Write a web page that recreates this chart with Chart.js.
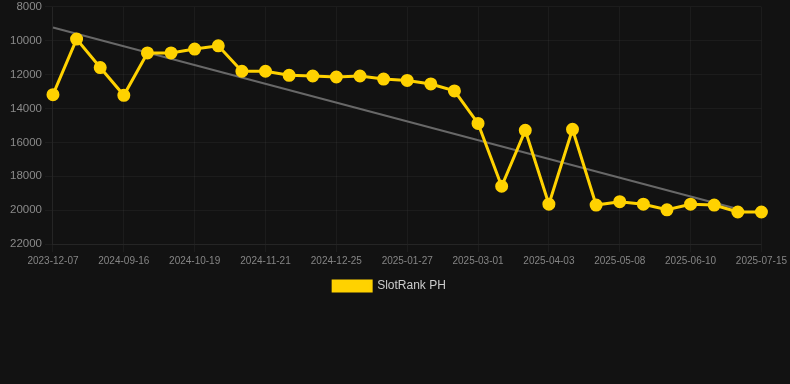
<!DOCTYPE html>
<html>
<head>
<meta charset="utf-8">
<script src="https://cdn.jsdelivr.net/npm/chart.js@4"></script>
<style>
  html, body { margin: 0; padding: 0; background: #121212; overflow: hidden; }
  #wrap { width: 790px; height: 305px; position: relative; margin-top: -3px; }
</style>
</head>
<body>
<div id="wrap"><canvas id="chart-rank"></canvas></div>
<script>
const dates = [
  '2023-12-07', '2024-08-21', '2024-09-05', '2024-09-16', '2024-09-27', '2024-10-08',
  '2024-10-19', '2024-10-30', '2024-11-10', '2024-11-21', '2024-12-02', '2024-12-14',
  '2024-12-25', '2025-01-05', '2025-01-16', '2025-01-27', '2025-02-07', '2025-02-18',
  '2025-03-01', '2025-03-12', '2025-03-23', '2025-04-03', '2025-04-15', '2025-04-26',
  '2025-05-08', '2025-05-19', '2025-05-30', '2025-06-10', '2025-06-22', '2025-07-03',
  '2025-07-15'
];

const rankPH = [
  13180, 9900, 11580, 13220, 10720, 10720, 10490, 10300, 11800, 11800,
  12040, 12080, 12140, 12080, 12260, 12340, 12550, 12960, 14880, 18590,
  15290, 19650, 15230, 19700, 19500, 19650, 19980, 19650, 19700, 20110,
  20110
];

// linha de tendencia: so o inicio e o fim, o resto fica vazio
const trend = dates.map(() => null);
trend[0] = 9220;
trend[29] = 19930;

const yTicks = [8000, 10000, 12000, 14000, 16000, 18000, 20000, 22000];

const gold = '#ffd200';
const fontFam = 'Liberation Sans, Arial, sans-serif';

const config = {
  type: 'line',
  data: {
    labels: dates,
    datasets: [
      {
        label: 'SlotRank PH',
        data: rankPH,
        borderColor: gold,
        backgroundColor: gold,
        borderWidth: 3,
        pointRadius: 5,
        pointHoverRadius: 6,
        tension: 0
      },
      {
        label: 'trend',
        data: trend,
        borderColor: '#686868',
        borderWidth: 2,
        pointRadius: 0,
        spanGaps: true,
        fill: false
      }
    ]
  },
  options: {
    responsive: true,
    maintainAspectRatio: false,
    animation: false,
    layout: { padding: { left: 7, right: 18 } },
    scales: {
      x: {
        grid: { color: 'rgba(255,255,255,0.045)' },
        border: { color: 'rgba(255,255,255,0.045)' },
        ticks: {
          color: '#858585',
          font: { family: fontFam, size: 10 },
          maxRotation: 0,
          autoSkip: false,
          callback: function (val, idx) {
            return idx % 3 === 0 ? this.getLabelForValue(val) : null; // so a cada 3 datas
          }
        }
      },
      y: {
        reverse: true,
        min: yTicks[0],
        max: yTicks[yTicks.length - 1],
        afterBuildTicks: (axis) => { axis.ticks = yTicks.map(v => ({ value: v })); },
        grid: { color: 'rgba(255,255,255,0.045)' },
        border: { color: 'rgba(255,255,255,0.045)' },
        ticks: {
          color: '#8a8a8a',
          font: { family: fontFam, size: 11.5 },
          callback: (v) => String(v)
        }
      }
    },
    plugins: {
      legend: {
        position: 'bottom',
        labels: {
          color: '#cccccc',
          boxWidth: 38,
          boxHeight: 10,
          font: { family: fontFam, size: 12 },
          filter: (item) => item.text !== 'trend'
        }
      },
      tooltip: { enabled: true }
    }
  }
};

const myChartRank = new Chart(document.getElementById('chart-rank'), config);
</script>
</body>
</html>
